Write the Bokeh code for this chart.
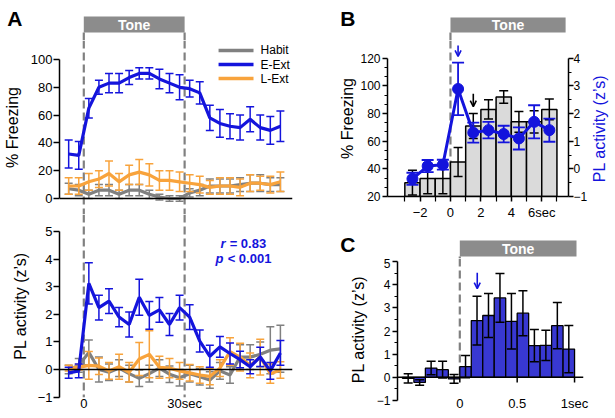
import math
from bokeh.plotting import figure
from bokeh.models import Range1d, LinearAxis, FixedTicker, Span, Arrow, OpenHead
from bokeh.layouts import row, column
from bokeh.core.properties import value
from bokeh.embed import file_html
from bokeh.resources import INLINE

FONT = "Liberation Sans"
BLUE = "#1414dc"
ORANGE = "#f8a33c"
GRAY = "#808080"
TONE = "#8c8c8c"
BAR_GRAY = "#dadada"
C_BLUE = "#3838d2"

# ---------------- data ----------------
a_time = [-4.5, -1.5, 1.5, 4.5, 7.5, 10.5, 13.5, 16.5, 19.5, 22.5, 25.5,
          28.5, 31.5, 34.5, 37.5, 40.5, 43.5, 46.5, 49.5, 52.5, 55.5, 58.5]
habit_freeze = [7, 6, 3, 6, 6, 3, 6, 6, 3, 1, 0, 0, 4, 6, 9, 9, 9, 10, 11, 11, 10, 10]
habit_freeze_err = [4, 4, 3, 4, 4, 3, 4, 4, 3, 2, 2, 2, 3, 4, 5, 5, 5, 5, 6, 6, 5, 5]
eext_freeze = [32, 31, 65, 80, 83, 83, 87, 90, 90, 86, 83, 80, 79, 76, 58, 54, 52, 51, 57, 51, 49, 52]
eext_freeze_err = [10, 10, 7, 5, 7, 7, 5, 4, 4, 7, 7, 9, 6, 8, 9, 10, 9, 9, 9, 9, 10, 11]
lext_freeze = [9, 9, 12, 14, 18, 12, 17, 19, 17, 13, 13, 12, 11, 10, 8, 9, 9, 8, 11, 11, 10, 12]
lext_freeze_err = [6, 6, 6, 6, 9, 6, 7, 9, 8, 7, 7, 7, 6, 6, 5, 6, 6, 6, 6, 5, 6, 7]

habit_pl = [0.0, 0.15, 0.62, 0.0, -0.1, 0.05, -0.15, -0.32, -0.15, 0.05, -0.17,
            -0.3, -0.15, -0.26, -0.38, -0.05, -0.2, 0.45, 0.45, 0.55, 0.7, 0.75]
habit_pl_err = [0.15, 0.25, 0.45, 0.45, 0.3, 0.3, 0.3, 0.3, 0.3, 0.3, 0.3,
                0.3, 0.3, 0.3, 0.3, 0.3, 0.3, 0.45, 0.45, 0.45, 0.85, 0.85]
eext_pl = [-0.12, -0.05, 3.12, 2.24, 2.48, 1.9, 1.63, 2.62, 1.96, 2.16, 1.63,
           2.24, 1.9, 1.03, 0.48, 0.82, 0.58, 0.36, 0.1, 0.46, -0.05, 0.6]
eext_pl_err = [0.2, 0.25, 0.75, 0.45, 0.45, 0.35, 0.45, 0.65, 0.5, 0.45, 0.4,
               0.45, 0.45, 0.4, 0.4, 0.38, 0.38, 0.3, 0.25, 0.35, 0.3, 0.45]
lext_pl = [0.05, 0.08, 0.15, 0.12, -0.05, 0.1, -0.1, 0.38, 0.55, 0.08, 0.05,
           -0.05, -0.12, -0.2, -0.25, 0.05, 0.65, 0.45, 0.15, 0.45, -0.15, -0.02]
lext_pl_err = [0.1, 0.1, 0.5, 0.3, 0.3, 0.45, 0.35, 0.6, 0.85, 0.4, 0.35,
               0.3, 0.3, 0.3, 0.3, 0.3, 0.5, 0.5, 0.45, 0.65, 0.35, 0.3]

b_time = [-2.5, -1.5, -0.5, 0.5, 1.5, 2.5, 3.5, 4.5, 5.5, 6.5]
b_freeze = [30, 33, 33, 45, 71, 83, 92, 74, 74, 83]
b_freeze_err = [9, 11, 11, 10.5, 9, 7, 4.5, 7.5, 8, 7.5]
b_pl = [-0.36, 0.1, 0.15, 2.89, 1.31, 1.4, 1.26, 1.1, 1.7, 1.4]
b_pl_err = [0.22, 0.22, 0.18, 0.95, 0.36, 0.3, 0.3, 0.4, 0.6, 0.42]

c_time = [-0.45, -0.35, -0.25, -0.15, -0.05, 0.05, 0.15, 0.25, 0.35, 0.45,
          0.55, 0.65, 0.75, 0.85, 0.95]
c_pl = [-0.04, -0.22, 0.4, 0.33, -0.07, 0.46, 2.45, 2.67, 3.43, 2.42,
        2.77, 1.37, 1.38, 2.23, 1.22]
c_pl_err = [0.2, 0.12, 0.29, 0.36, 0.19, 0.48, 1.05, 0.95, 1.05, 1.2,
            0.97, 0.7, 0.65, 1.0, 1.02]

a_ticks_freeze = [0, 20, 40, 60, 80, 100]
a_ticks_pl = [-1, 0, 1, 2, 3, 4, 5]
b_ticks_freeze = [20, 40, 60, 80, 100, 120]
b_ticks_pl = [-1, 0, 1, 2, 3, 4]
b_ticks_x = [-2, 0, 2, 4, 6]
c_ticks_pl = [-1, 0, 1, 2, 3, 4, 5]
c_ticks_x = [0, 0.5, 1]

legend_names = ["Habit", "E-Ext", "L-Ext"]
legend_colors = [GRAY, BLUE, ORANGE]


def base_fig(width, height, xr, yr, left=0, right=0, top=0, bottom=0):
    p = figure(width=width, height=height, x_range=Range1d(*xr), y_range=Range1d(*yr),
               output_backend="svg", toolbar_location=None,
               x_axis_location=None, y_axis_location=None,
               min_border=0, min_border_left=left, min_border_right=right,
               min_border_top=top, min_border_bottom=bottom,
               outline_line_color=None, background_fill_color="white",
               border_fill_color="white")
    p.frame_align = False
    p.grid.visible = False
    return p


def style_axis(ax, tick_size="13px", tick_out=6, minor_out=0, standoff=1, label_standoff=3):
    ax.axis_line_width = 1.5
    ax.axis_line_color = "black"
    ax.major_tick_line_width = 1.5
    ax.minor_tick_line_width = 1.2
    ax.major_tick_in = 0
    ax.major_tick_out = tick_out
    ax.minor_tick_in = 0
    ax.minor_tick_out = minor_out
    ax.major_label_text_font = FONT
    ax.major_label_text_font_size = tick_size
    ax.major_label_text_color = "black"
    ax.major_label_standoff = standoff
    ax.axis_label_text_font = FONT
    ax.axis_label_text_font_size = "16px"
    ax.axis_label_text_font_style = "normal"
    ax.axis_label_text_color = "black"
    ax.axis_label_standoff = label_standoff


def label_only_axis(ax, standoff, size="13px", style="normal"):
    ax.axis_line_color = None
    ax.major_tick_line_color = None
    ax.minor_tick_line_color = None
    ax.major_tick_in = 0
    ax.major_tick_out = 0
    ax.minor_tick_in = 0
    ax.minor_tick_out = 0
    ax.major_label_text_font = FONT
    ax.major_label_text_font_size = size
    ax.major_label_text_font_style = style
    ax.major_label_text_color = "black"
    ax.major_label_standoff = standoff


def panel_letter(p, y, letter, standoff):
    """Panel letter drawn as the single label of a bare left axis of the header strip."""
    ax = LinearAxis(ticker=FixedTicker(ticks=[y], minor_ticks=[]),
                    major_label_overrides={y: letter})
    label_only_axis(ax, standoff, "21px", "bold")
    p.add_layout(ax, "left")


def errbars(p, xs, ys, errs, color, cap, lw=1.5, rng="default"):
    lo = [y - e for y, e in zip(ys, errs)]
    hi = [y + e for y, e in zip(ys, errs)]
    p.segment(x0=xs, y0=lo, x1=xs, y1=hi, line_color=color, line_width=lw, y_range_name=rng)
    p.scatter(xs, hi, marker="dash", size=cap, line_color=color, line_width=lw, y_range_name=rng)
    p.scatter(xs, lo, marker="dash", size=cap, line_color=color, line_width=lw, y_range_name=rng)


def text(p, x, y, s, size, color="black", style="normal", align="center", angle=0.0):
    p.text(x=[x], y=[y], text=[s], text_font=value(FONT), text_font_size=size,
           text_color=color, text_font_style=style, text_align=align,
           text_baseline="middle", angle=angle)


def tone_strip(p, x0, x1, ybot, ytop):
    p.quad(left=[x0], right=[x1], bottom=[ybot], top=[ytop], fill_color=TONE, line_color=None)
    text(p, (x0 + x1) / 2, (ybot + ytop) / 2, "Tone", "14px", "white", "bold")


def dashed(p, x, y0, y1):
    p.segment(x0=[x], x1=[x], y0=[y0], y1=[y1], line_color=GRAY, line_width=2.2, line_dash="8 4")


A_X = (-7.23, 62.1)
B_X = (-4.14, 7.76)
C_X = (-0.543, 1.078)

# ---------------- Panel A header strip (letter + tone) ----------------
sa = base_fig(300, 40, A_X, (0, 40), 59, 8, 0, 0)
panel_letter(sa, 22.5, "A", 37)
tone_strip(sa, 0, 30, 8, 24)
dashed(sa, 0, 8, 0)
dashed(sa, 30, 8, 0)

# ---------------- Panel A top ----------------
pa1 = base_fig(300, 174, A_X, (-11.51, 113.67), 59, 8, 0, 0)
ya1 = LinearAxis(ticker=FixedTicker(ticks=a_ticks_freeze, minor_ticks=[]), bounds=(0, 100),
                 axis_label="% Freezing")
style_axis(ya1, "13px", 6, 0, 1, 7)
pa1.add_layout(ya1, "left")
dashed(pa1, 0, 113.67, -11.51)
dashed(pa1, 30, 113.67, -11.51)
for vals, errs, col in [(habit_freeze, habit_freeze_err, GRAY),
                        (lext_freeze, lext_freeze_err, ORANGE),
                        (eext_freeze, eext_freeze_err, BLUE)]:
    errbars(pa1, a_time, vals, errs, col, 8)
    pa1.line(a_time, vals, line_color=col, line_width=3.2)
pa1.add_layout(Span(location=0, dimension="width", line_color="black", line_width=1.5))
leg_y = [106.5, 96.4, 86.3]
pa1.segment(x0=[40.1] * 3, x1=[50.5] * 3, y0=leg_y, y1=leg_y, line_color=legend_colors, line_width=3.5)
for nm, yy in zip(legend_names, leg_y):
    text(pa1, 52.6, yy, nm, "12px", align="left")

# ---------------- Panel A bottom ----------------
pa2 = base_fig(300, 204, A_X, (-1.014, 5.616), 59, 8, 0, 21)
ya2 = LinearAxis(ticker=FixedTicker(ticks=a_ticks_pl, minor_ticks=[]), bounds=(-1, 5),
                 axis_label="PL activity (z’s)")
style_axis(ya2, "13px", 6, 0, 1, 6)
pa2.add_layout(ya2, "left")
xa2 = LinearAxis(ticker=FixedTicker(ticks=[0, 30], minor_ticks=[]),
                 major_label_overrides={0: "0", 30: "30sec"})
label_only_axis(xa2, -2)
pa2.add_layout(xa2, "below")
for loc in (0, 30):
    pa2.add_layout(Span(location=loc, dimension="height", line_color=GRAY, line_width=2.2,
                        line_dash="8 4", level="underlay"))
for vals, errs, col in [(habit_pl, habit_pl_err, GRAY),
                        (lext_pl, lext_pl_err, ORANGE),
                        (eext_pl, eext_pl_err, BLUE)]:
    errbars(pa2, a_time, vals, errs, col, 8)
    pa2.line(a_time, vals, line_color=col, line_width=3.2)
pa2.add_layout(Span(location=0, dimension="width", line_color="black", line_width=1.5))
text(pa2, 40.7, 4.58, "r", "13px", BLUE, "bold italic", "left")
text(pa2, 43.4, 4.58, "= 0.83", "13px", BLUE, "bold", "left")
text(pa2, 39.2, 4.03, "p", "13px", BLUE, "bold italic", "left")
text(pa2, 42.8, 4.03, "< 0.001", "13px", BLUE, "bold", "left")

# ---------------- Panel B header strip ----------------
sb = base_fig(315, 40, B_X, (0, 40), 87, 47, 0, 0)
panel_letter(sb, 22.5, "B", 32)
tone_strip(sb, 0, 7.57, 8, 23)
dashed(sb, 0, 8, 0)

# ---------------- Panel B ----------------
B_Y = (20, 132.86)
pb = base_fig(290, 182, B_X, B_Y, 87, 22, 0, 24)
pb.extra_y_ranges = {"pl": Range1d(-1, 4.643)}
yb = LinearAxis(ticker=FixedTicker(ticks=b_ticks_freeze,
                                   minor_ticks=[t + d for t in b_ticks_freeze[:-1] for d in (20 / 3, 40 / 3)]),
                bounds=(20, 120), axis_label="% Freezing")
style_axis(yb, "12px", 5, 3, 2, 1)
pb.add_layout(yb, "left")
yb2 = LinearAxis(y_range_name="pl",
                 ticker=FixedTicker(ticks=b_ticks_pl, minor_ticks=[t + 0.5 for t in b_ticks_pl[:-1]]),
                 bounds=(-1, 4))
style_axis(yb2, "12px", 5, 3, 0, 0)
pb.add_layout(yb2, "right")
xb = LinearAxis(ticker=FixedTicker(ticks=b_ticks_x, minor_ticks=[-3, -1, 1, 3, 5, 7]),
                major_label_overrides={6: "6sec"})
style_axis(xb, "13px", 5, 5, 3, 0)
pb.add_layout(xb, "below")
dashed(pb, 0, 132.86, 20)
pb.vbar(x=b_time, width=1, top=b_freeze, bottom=20, fill_color=BAR_GRAY,
        line_color="black", line_width=1.5)
errbars(pb, b_time, b_freeze, b_freeze_err, "black", 9)
errbars(pb, b_time, b_pl, b_pl_err, BLUE, 12, 1.8, "pl")
pb.line(b_time, b_pl, line_color=BLUE, line_width=3, y_range_name="pl")
pb.scatter(b_time, b_pl, marker="circle", size=11, fill_color=BLUE, line_color=BLUE, y_range_name="pl")
pb.add_layout(Arrow(x_start=0.5, y_start=129.3, x_end=0.5, y_end=121.4, line_color=BLUE,
                    line_width=1.6, end=OpenHead(size=6, line_color=BLUE, line_width=1.6)))
pb.add_layout(Arrow(x_start=1.5, y_start=94.3, x_end=1.5, y_end=85.0, line_color="black",
                    line_width=1.6, end=OpenHead(size=6, line_color="black", line_width=1.6)))

# right-hand axis title of panel B (reads bottom to top)
lb = base_fig(25, 182, (0, 25), B_Y, 0, 0, 0, 24)
text(lb, 8.5, 70, "PL activity (z’s)", "16px", BLUE, angle=math.pi / 2)

# ---------------- Panel C header strip ----------------
sc = base_fig(315, 36, C_X, (0, 36), 97, 32, 0, 0)
panel_letter(sc, 14.5, "C", 42)
tone_strip(sc, 0, 1.017, 2, 18)
dashed(sc, 0, 2, 0)

# ---------------- Panel C ----------------
pc = base_fig(315, 160, C_X, (-1, 5.13), 97, 32, 0, 18)
yc = LinearAxis(ticker=FixedTicker(ticks=c_ticks_pl, minor_ticks=[t + 0.5 for t in c_ticks_pl[:-1]]),
                bounds=(-1, 5), axis_label="PL activity (z’s)")
style_axis(yc, "12px", 5, 3, 2, 7)
pc.add_layout(yc, "left")
xc = LinearAxis(ticker=FixedTicker(ticks=c_ticks_x, minor_ticks=[]),
                major_label_overrides={0: "0", 0.5: "0.5", 1: "1sec"})
label_only_axis(xc, -5)
pc.add_layout(xc, "below")
dashed(pc, 0, 5.13, 0)
pc.vbar(x=c_time, width=0.1, top=c_pl, bottom=0, fill_color=C_BLUE, line_color="black", line_width=1.3)
errbars(pc, c_time, c_pl, c_pl_err, "black", 9)
pc.add_layout(Span(location=0, dimension="width", line_color="black", line_width=1.5))
pc.segment(x0=c_ticks_x, x1=c_ticks_x, y0=[0] * 3, y1=[-0.22] * 3, line_color="black", line_width=1.5)
pc.add_layout(Arrow(x_start=0.152, y_start=4.52, x_end=0.152, y_end=3.83, line_color=BLUE,
                    line_width=1.6, end=OpenHead(size=6, line_color=BLUE, line_width=1.6)))

layout = row(column(sa, pa1, pa2),
             column(sb, row(pb, lb), sc, pc))
open("out.html", "w").write(file_html(layout, INLINE))
